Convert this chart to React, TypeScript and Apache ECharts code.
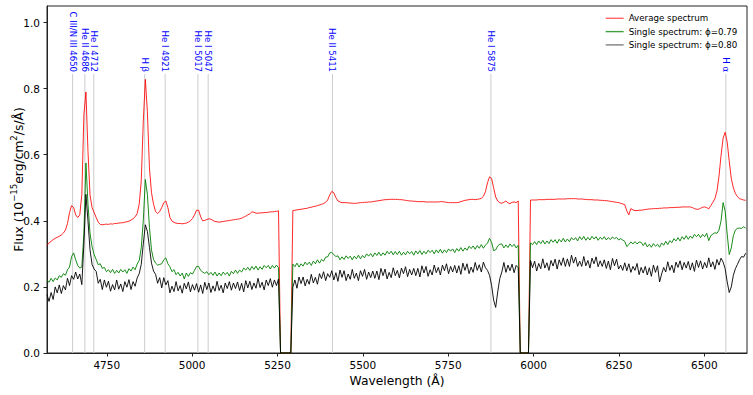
import React, { useEffect, useRef } from 'react';
import * as echarts from 'echarts';

// Wavelength sampling grid (Å): 4575, 4581, ... 6621
const WAVE_START = 4575;
const WAVE_STEP = 6;
const WAVE_COUNT = 342;
const WAVELENGTHS = Array.from({ length: WAVE_COUNT }, (_, i) => WAVE_START + WAVE_STEP * i);

// Average spectrum (10^-15 erg/cm2/s/Å), rows of 10 samples (60 Å each)
const AVERAGE_FLUX = [
  0.326, 0.333, 0.338, 0.343, 0.347, 0.350, 0.353, 0.357, 0.363, 0.372,
  0.392, 0.425, 0.446, 0.440, 0.418, 0.410, 0.418, 0.480, 0.720, 0.790,
  0.610, 0.478, 0.440, 0.425, 0.410, 0.396, 0.389, 0.388, 0.389, 0.390,
  0.389, 0.391, 0.390, 0.392, 0.392, 0.393, 0.394, 0.394, 0.396, 0.397,
  0.399, 0.402, 0.406, 0.412, 0.422, 0.450, 0.520, 0.700, 0.828, 0.730,
  0.560, 0.485, 0.450, 0.428, 0.422, 0.428, 0.440, 0.455, 0.460, 0.440,
  0.410, 0.399, 0.395, 0.393, 0.392, 0.392, 0.391, 0.392, 0.393, 0.396,
  0.400, 0.407, 0.418, 0.432, 0.432, 0.412, 0.400, 0.401, 0.404, 0.406,
  0.405, 0.401, 0.398, 0.397, 0.396, 0.397, 0.398, 0.399, 0.400, 0.401,
  0.402, 0.403, 0.404, 0.405, 0.406, 0.408, 0.411, 0.414, 0.418, 0.421,
  0.427, 0.426, 0.423, 0.423, 0.424, 0.424, 0.425, 0.425, 0.426, 0.427,
  0.427, 0.428, 0.429, 0.430, 0, 0, 0, 0, 0, 0,
  0.431, 0.432, 0.433, 0.434, 0.435, 0.436, 0.437, 0.438, 0.440, 0.441,
  0.443, 0.444, 0.446, 0.448, 0.450, 0.452, 0.456, 0.463, 0.478, 0.489,
  0.485, 0.470, 0.460, 0.457, 0.455, 0.455, 0.455, 0.454, 0.454, 0.453,
  0.453, 0.453, 0.454, 0.455, 0.455, 0.456, 0.456, 0.457, 0.457, 0.458,
  0.459, 0.460, 0.461, 0.462, 0.463, 0.464, 0.464, 0.465, 0.465, 0.465,
  0.465, 0.465, 0.464, 0.464, 0.463, 0.462, 0.461, 0.460, 0.460, 0.459,
  0.459, 0.458, 0.458, 0.458, 0.458, 0.457, 0.457, 0.457, 0.457, 0.457,
  0.457, 0.457, 0.458, 0.458, 0.457, 0.456, 0.455, 0.455, 0.455, 0.455,
  0.455, 0.456, 0.458, 0.460, 0.462, 0.463, 0.464, 0.465, 0.465, 0.464,
  0.465, 0.466, 0.468, 0.474, 0.488, 0.515, 0.533, 0.528, 0.500, 0.472,
  0.460, 0.455, 0.453, 0.456, 0.460, 0.454, 0.452, 0.456, 0.457, 0.455,
  0.460, 0, 0, 0, 0, 0, 0.463, 0.463, 0.463, 0.463,
  0.464, 0.464, 0.464, 0.464, 0.465, 0.465, 0.465, 0.465, 0.465, 0.466,
  0.466, 0.466, 0.466, 0.466, 0.467, 0.467, 0.467, 0.467, 0.467, 0.466,
  0.466, 0.466, 0.465, 0.465, 0.464, 0.464, 0.464, 0.463, 0.463, 0.463,
  0.462, 0.462, 0.461, 0.461, 0.460, 0.459, 0.458, 0.457, 0.456, 0.455,
  0.453, 0.451, 0.449, 0.430, 0.418, 0.437, 0.433, 0.431, 0.431, 0.432,
  0.432, 0.433, 0.434, 0.435, 0.436, 0.436, 0.437, 0.437, 0.437, 0.438,
  0.438, 0.439, 0.439, 0.439, 0.440, 0.440, 0.440, 0.441, 0.441, 0.441,
  0.442, 0.442, 0.442, 0.442, 0.442, 0.440, 0.437, 0.435, 0.435, 0.438,
  0.441, 0.442, 0.440, 0.436, 0.446, 0.456, 0.467, 0.490, 0.535, 0.598,
  0.650, 0.668, 0.638, 0.580, 0.528, 0.500, 0.483, 0.473, 0.467, 0.465,
  0.463, 0.462,
];

// Single spectrum, phase 0.79
const PHASE079_FLUX = [
  0.220, 0.214, 0.226, 0.216, 0.227, 0.221, 0.234, 0.229, 0.240, 0.235,
  0.252, 0.260, 0.292, 0.303, 0.282, 0.265, 0.257, 0.260, 0.360, 0.575,
  0.450, 0.362, 0.322, 0.298, 0.283, 0.267, 0.270, 0.256, 0.259, 0.246,
  0.252, 0.243, 0.253, 0.241, 0.250, 0.242, 0.253, 0.245, 0.252, 0.241,
  0.255, 0.248, 0.260, 0.252, 0.269, 0.280, 0.318, 0.400, 0.525, 0.480,
  0.380, 0.312, 0.283, 0.272, 0.266, 0.268, 0.270, 0.282, 0.288, 0.270,
  0.261, 0.246, 0.252, 0.237, 0.244, 0.233, 0.242, 0.224, 0.242, 0.232,
  0.243, 0.239, 0.250, 0.262, 0.262, 0.250, 0.245, 0.241, 0.246, 0.237,
  0.244, 0.235, 0.245, 0.233, 0.242, 0.234, 0.245, 0.237, 0.244, 0.233,
  0.247, 0.240, 0.251, 0.241, 0.251, 0.245, 0.257, 0.251, 0.259, 0.250,
  0.262, 0.253, 0.263, 0.251, 0.261, 0.253, 0.265, 0.258, 0.265, 0.254,
  0.265, 0.257, 0.266, 0.258, 0, 0, 0, 0, 0, 0,
  0.269, 0.261, 0.272, 0.260, 0.270, 0.263, 0.275, 0.267, 0.275, 0.265,
  0.278, 0.270, 0.282, 0.272, 0.283, 0.278, 0.290, 0.291, 0.303, 0.304,
  0.298, 0.292, 0.294, 0.282, 0.291, 0.283, 0.294, 0.286, 0.293, 0.282,
  0.293, 0.285, 0.296, 0.285, 0.295, 0.288, 0.300, 0.293, 0.301, 0.291,
  0.303, 0.295, 0.305, 0.294, 0.303, 0.296, 0.308, 0.300, 0.308, 0.297,
  0.307, 0.298, 0.308, 0.296, 0.305, 0.297, 0.308, 0.300, 0.307, 0.296,
  0.309, 0.300, 0.310, 0.298, 0.308, 0.300, 0.311, 0.304, 0.311, 0.300,
  0.312, 0.303, 0.314, 0.302, 0.312, 0.304, 0.315, 0.308, 0.315, 0.304,
  0.316, 0.308, 0.319, 0.308, 0.318, 0.311, 0.323, 0.316, 0.324, 0.314,
  0.325, 0.317, 0.328, 0.317, 0.327, 0.332, 0.347, 0.335, 0.310, 0.312,
  0.324, 0.329, 0.330, 0.318, 0.327, 0.319, 0.330, 0.322, 0.329, 0.318,
  0.326, 0, 0, 0, 0, 0, 0.333, 0.328, 0.337, 0.328,
  0.339, 0.331, 0.341, 0.330, 0.339, 0.331, 0.343, 0.335, 0.343, 0.332,
  0.344, 0.336, 0.347, 0.336, 0.345, 0.337, 0.349, 0.342, 0.349, 0.339,
  0.352, 0.343, 0.353, 0.341, 0.350, 0.342, 0.353, 0.345, 0.352, 0.341,
  0.350, 0.344, 0.352, 0.342, 0.349, 0.343, 0.351, 0.346, 0.350, 0.342,
  0.346, 0.342, 0.338, 0.322, 0.328, 0.336, 0.330, 0.337, 0.330, 0.336,
  0.335, 0.325, 0.334, 0.321, 0.329, 0.320, 0.331, 0.323, 0.329, 0.320,
  0.333, 0.326, 0.338, 0.328, 0.340, 0.334, 0.346, 0.339, 0.349, 0.339,
  0.352, 0.344, 0.355, 0.344, 0.354, 0.347, 0.359, 0.352, 0.359, 0.349,
  0.359, 0.352, 0.362, 0.340, 0.355, 0.360, 0.364, 0.362, 0.372, 0.400,
  0.455, 0.430, 0.360, 0.298, 0.318, 0.355, 0.372, 0.377, 0.378, 0.377,
  0.382, 0.378,
];

// Single spectrum, phase 0.80
const PHASE080_FLUX = [
  0.177, 0.156, 0.183, 0.162, 0.200, 0.182, 0.206, 0.180, 0.204, 0.191,
  0.226, 0.204, 0.234, 0.223, 0.245, 0.224, 0.239, 0.207, 0.330, 0.480,
  0.400, 0.312, 0.268, 0.254, 0.247, 0.211, 0.223, 0.192, 0.221, 0.199,
  0.217, 0.187, 0.207, 0.191, 0.221, 0.193, 0.209, 0.186, 0.216, 0.199,
  0.222, 0.192, 0.216, 0.202, 0.227, 0.240, 0.268, 0.330, 0.388, 0.368,
  0.320, 0.272, 0.248, 0.238, 0.211, 0.228, 0.197, 0.228, 0.206, 0.219,
  0.182, 0.202, 0.186, 0.216, 0.188, 0.204, 0.181, 0.211, 0.194, 0.215,
  0.185, 0.207, 0.190, 0.210, 0.184, 0.206, 0.180, 0.214, 0.192, 0.212,
  0.183, 0.203, 0.187, 0.217, 0.189, 0.205, 0.182, 0.212, 0.195, 0.216,
  0.190, 0.212, 0.195, 0.215, 0.189, 0.211, 0.185, 0.219, 0.197, 0.217,
  0.192, 0.212, 0.196, 0.226, 0.198, 0.214, 0.191, 0.221, 0.204, 0.225,
  0.199, 0.221, 0.204, 0.224, 0, 0, 0, 0, 0, 0,
  0.199, 0.221, 0.196, 0.230, 0.210, 0.230, 0.203, 0.223, 0.208, 0.238,
  0.212, 0.229, 0.208, 0.240, 0.225, 0.246, 0.219, 0.240, 0.229, 0.249,
  0.221, 0.243, 0.217, 0.251, 0.229, 0.249, 0.219, 0.239, 0.223, 0.253,
  0.226, 0.242, 0.219, 0.249, 0.232, 0.253, 0.223, 0.245, 0.228, 0.248,
  0.226, 0.248, 0.222, 0.256, 0.234, 0.254, 0.224, 0.244, 0.228, 0.258,
  0.234, 0.250, 0.227, 0.257, 0.240, 0.261, 0.231, 0.253, 0.236, 0.256,
  0.234, 0.256, 0.230, 0.264, 0.242, 0.262, 0.232, 0.252, 0.236, 0.266,
  0.243, 0.259, 0.236, 0.266, 0.249, 0.270, 0.240, 0.262, 0.245, 0.265,
  0.242, 0.264, 0.238, 0.272, 0.250, 0.270, 0.240, 0.260, 0.244, 0.274,
  0.250, 0.267, 0.245, 0.275, 0.258, 0.250, 0.235, 0.205, 0.160, 0.138,
  0.185, 0.225, 0.245, 0.274, 0.244, 0.266, 0.249, 0.269, 0.243, 0.265,
  0.258, 0, 0, 0, 0, 0, 0.280, 0.258, 0.278, 0.248,
  0.271, 0.255, 0.285, 0.257, 0.273, 0.250, 0.280, 0.263, 0.284, 0.254,
  0.282, 0.265, 0.288, 0.262, 0.285, 0.262, 0.296, 0.272, 0.290, 0.262,
  0.278, 0.262, 0.292, 0.264, 0.280, 0.257, 0.287, 0.270, 0.291, 0.261,
  0.279, 0.262, 0.282, 0.256, 0.278, 0.252, 0.286, 0.264, 0.284, 0.254,
  0.266, 0.250, 0.273, 0.249, 0.270, 0.244, 0.262, 0.250, 0.271, 0.237,
  0.259, 0.242, 0.262, 0.236, 0.258, 0.232, 0.266, 0.244, 0.264, 0.215,
  0.239, 0.259, 0.245, 0.276, 0.250, 0.266, 0.243, 0.275, 0.259, 0.279,
  0.252, 0.274, 0.257, 0.277, 0.251, 0.273, 0.247, 0.281, 0.259, 0.279,
  0.254, 0.274, 0.258, 0.288, 0.260, 0.276, 0.253, 0.283, 0.266, 0.287,
  0.275, 0.255, 0.215, 0.183, 0.200, 0.235, 0.255, 0.268, 0.282, 0.292,
  0.290, 0.302,
];

// Spectral line identifications
const LINE_WAVES = [4650, 4686, 4712, 4861, 4921, 5017, 5047, 5411, 5875, 6563];
const LINE_LABELS = [
  'C III/N III 4650', 'He II 4686', 'He I 4712', 'H β', 'He I 4921',
  'He I 5017', 'He I 5047', 'He II 5411', 'He I 5875', 'H α',
];
const LINE_TOP = 0.844;

const X_TICKS = [4750, 5000, 5250, 5500, 5750, 6000, 6250, 6500];
const Y_TICKS = [0, 0.2, 0.4, 0.6, 0.8, 1.0];
const SERIES_NAMES = ['Average spectrum', 'Single spectrum: ϕ=0.79', 'Single spectrum: ϕ=0.80'];
const SERIES_COLORS = ['rgba(255,0,0,0.85)', 'rgba(0,128,0,0.9)', 'rgba(0,0,0,0.9)'];
const LEGEND_COLORS = ['rgba(255,0,0,0.6)', 'rgba(0,128,0,0.75)', 'rgba(0,0,0,0.5)'];
const Y_TITLE = '{a|Flux (10}{s|−15}{a|erg/cm}{s|2}{a|/s/Å)}';
const X_TITLE = 'Wavelength (Å)';

const FONT = 'DejaVu Sans';

function buildOption() {
  const fluxes = [AVERAGE_FLUX, PHASE079_FLUX, PHASE080_FLUX];
  const lineSeries = fluxes.map((flux, k) => ({
    type: 'line',
    name: SERIES_NAMES[k],
    data: WAVELENGTHS.map((w, i) => [w, flux[i]]),
    showSymbol: false,
    symbol: 'none',
    lineStyle: { color: SERIES_COLORS[k], width: 1 },
    itemStyle: { color: SERIES_COLORS[k] },
    z: 3 + k,
    silent: true,
  }));

  return {
    animation: false,
    grid: {
      left: 47, right: 6, top: 6, bottom: 42,
      containLabel: false,
      outerBoundsMode: 'none',
      show: true, borderColor: '#222', borderWidth: 1, backgroundColor: '#fff',
    },
    graphic: [
      {
        type: 'text',
        x: 18.5,
        y: 179.5,
        rotation: Math.PI / 2,
        silent: true,
        style: {
          text: Y_TITLE,
          align: 'center',
          verticalAlign: 'middle',
          fontSize: 12.3,
          fontFamily: FONT,
          fill: '#000',
          rich: {
            a: { fontSize: 12.3, fontFamily: FONT, fill: '#000', lineHeight: 18 },
            s: { fontSize: 8.6, fontFamily: FONT, fill: '#000', lineHeight: 10, verticalAlign: 'top' },
          },
        },
      },
    ],
    legend: {
      data: SERIES_NAMES.map((n, k) => ({ name: n, icon: 'rect', itemStyle: { color: LEGEND_COLORS[k] } })),
      orient: 'vertical',
      right: 15.7,
      top: 12.8,
      padding: 0,
      itemWidth: 18,
      itemHeight: 1.4,
      itemGap: 2.3,
      selectedMode: false,
      textStyle: { fontSize: 8.7, fontFamily: FONT, color: '#000', lineHeight: 11 },
    },
    xAxis: {
      type: 'value',
      min: 4575,
      max: 6625,
      axisLine: { show: true, onZero: false, lineStyle: { color: '#222', width: 1 } },
      axisTick: { show: true, length: 3.5, customValues: X_TICKS, lineStyle: { color: '#222' } },
      axisLabel: {
        customValues: X_TICKS,
        formatter: (v: number) => String(v),
        fontSize: 10.5, fontFamily: FONT, color: '#000', margin: 6,
      },
      splitLine: { show: false },
      name: X_TITLE,
      nameLocation: 'middle',
      nameGap: 22,
      nameTextStyle: { fontSize: 12.3, fontFamily: FONT, color: '#000' },
    },
    yAxis: {
      type: 'value',
      min: 0,
      max: 1.05,
      axisLine: { show: true, onZero: false, lineStyle: { color: '#222', width: 1 } },
      axisTick: { show: true, length: 3.5, customValues: Y_TICKS, lineStyle: { color: '#222' } },
      axisLabel: {
        customValues: Y_TICKS,
        formatter: (v: number) => v.toFixed(1),
        fontSize: 10.5, fontFamily: FONT, color: '#000', margin: 7,
      },
      splitLine: { show: false },
    },
    series: [
      {
        type: 'custom',
        name: 'line-ids',
        z: 2,
        silent: true,
        data: LINE_WAVES.map((w) => [w, LINE_TOP]),
        encode: { x: 0, y: 1 },
        renderItem: (params: any, api: any) => {
          const w = api.value(0);
          const top = api.value(1);
          const p0 = api.coord([w, 0]);
          const p1 = api.coord([w, top]);
          return {
            type: 'group',
            children: [
              {
                type: 'line',
                shape: { x1: p0[0], y1: p0[1], x2: p1[0], y2: p1[1] },
                style: { stroke: '#cccccc', lineWidth: 1 },
              },
              {
                type: 'text',
                x: p1[0],
                y: p1[1] - 2,
                rotation: -Math.PI / 2,
                style: {
                  text: LINE_LABELS[params.dataIndex],
                  fill: '#0000ff',
                  fontSize: 8.6,
                  fontFamily: FONT,
                  align: 'right',
                  verticalAlign: 'middle',
                },
              },
            ],
          };
        },
      },
      ...lineSeries,
    ],
  };
}

export default function App() {
  const ref = useRef<HTMLDivElement>(null);
  useEffect(() => {
    document.body.style.margin = '0';
    const chart = echarts.init(ref.current as HTMLDivElement, null, { renderer: 'svg' });
    chart.setOption(buildOption() as any);
    return () => chart.dispose();
  }, []);
  return (
    <div
      ref={ref}
      style={{ position: 'fixed', left: 0, top: 0, width: 753, height: 395, background: '#fff' }}
    />
  );
}
